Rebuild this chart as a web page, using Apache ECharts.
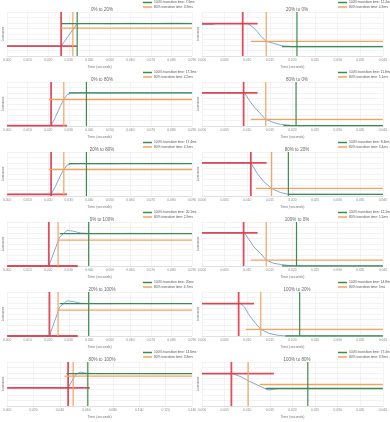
<!DOCTYPE html>
<html><head><meta charset="utf-8">
<script src="https://cdn.jsdelivr.net/npm/echarts@6/dist/echarts.min.js"></script>
<style>html,body{margin:0;padding:0;background:#fff}#c{width:390px;height:422px}</style>
</head><body><div id="c"></div>
<script>
const titles = ["0% to 20%","20% to 0%","0% to 80%","80% to 0%","20% to 80%","80% to 20%","0% to 100%","100% to 0%","20% to 100%","100% to 20%","80% to 100%","100% to 80%"];
const legend100 = ["7.6ms","12.4ms","17.3ms","11.8ms","17.4ms","8.4ms","20.1ms","12.1ms","20ms","14.8ms","14.6ms","17.4ms"];
const legend80 = ["3.9ms","4.3ms","4.2ms","5.1ms","4.1ms","4.4ms","2.9ms","5.1ms","4.7ms","5ms","3.8ms","3.9ms"];
const xMax = [0.09,0.04,0.09,0.04,0.09,0.04,0.09,0.04,0.09,0.04,0.14,0.04];
const xStep = [0.01,0.005,0.01,0.005,0.01,0.005,0.01,0.005,0.01,0.005,0.02,0.005];
const tStart = [0.0263,0.0090,0.0214,0.0092,0.0214,0.0108,0.0203,0.0092,0.0206,0.0081,0.0462,0.0065];
const t80 = [0.0320,0.0142,0.0276,0.0141,0.0276,0.0154,0.0248,0.0142,0.0248,0.0130,0.0500,0.0102];
const t100 = [0.0341,0.0210,0.0386,0.0208,0.0386,0.0191,0.0397,0.0209,0.0397,0.0216,0.0611,0.0234];
const levelStart = [0.226,0.737,0.008,0.752,0.038,0.752,0.0,0.752,0.0,0.737,0.414,0.737];
const level80 = [0.632,0.331,0.602,0.150,0.602,0.173,0.586,0.135,0.586,0.150,0.677,0.489];
const levelFinal = [0.737,0.211,0.752,0.008,0.737,0.038,0.737,0.0,0.737,0.0,0.737,0.398];
const redEnd = [0.034,0.0123,0.0292,0.0123,0.0292,0.0143,0.0344,0.0123,0.0344,0.0115,0.0626,0.0159];
const orangeFrom = [0.0263,0.0108,0.0203,0.0108,0.0203,0.0119,0.0248,0.0108,0.0248,0.0097,0.0434,0.0128];
const greenFrom = [0.0263,0.0177,0.0300,0.0180,0.0300,0.0191,0.0256,0.0177,0.0256,0.0184,0.0449,0.0141];
const curves = [
 [[0,0.226],[0.0263,0.226],[0.0341,0.737],[0.04,0.742],[0.05,0.735],[0.06,0.743],[0.07,0.737],[0.08,0.746],[0.09,0.741]],
 [[0,0.715],[0.0025,0.72],[0.003,0.737],[0.0101,0.737],[0.0112,0.66],[0.0123,0.55],[0.0130,0.45],[0.0142,0.331],[0.0159,0.286],[0.0177,0.23],[0.020,0.211],[0.04,0.211]],
 [[0,0.008],[0.0214,0.008],[0.0235,0.2],[0.0259,0.45],[0.0276,0.602],[0.0292,0.71],[0.031,0.745],[0.035,0.752],[0.05,0.748],[0.06,0.756],[0.07,0.75],[0.08,0.757],[0.09,0.753]],
 [[0,0.752],[0.0094,0.752],[0.0108,0.53],[0.0115,0.44],[0.0130,0.27],[0.0141,0.150],[0.0159,0.075],[0.0173,0.04],[0.0202,0.008],[0.04,0.008]],
 [[0,0.038],[0.0214,0.038],[0.0235,0.22],[0.0259,0.46],[0.0276,0.602],[0.0292,0.70],[0.031,0.732],[0.035,0.737],[0.05,0.733],[0.06,0.741],[0.07,0.736],[0.08,0.742],[0.09,0.738]],
 [[0,0.752],[0.0108,0.752],[0.0123,0.5],[0.0137,0.32],[0.0154,0.173],[0.0173,0.08],[0.0191,0.038],[0.04,0.038]],
 [[0,0],[0.0203,0],[0.0256,0.66],[0.0292,0.81],[0.0324,0.79],[0.0357,0.75],[0.04,0.74],[0.05,0.737],[0.06,0.742],[0.07,0.736],[0.08,0.741],[0.09,0.738]],
 [[0,0.752],[0.0094,0.752],[0.0115,0.43],[0.0130,0.28],[0.0142,0.135],[0.0159,0.06],[0.0177,0.03],[0.0202,0],[0.04,0]],
 [[0,0],[0.0206,0],[0.0256,0.66],[0.0292,0.80],[0.0324,0.78],[0.0357,0.745],[0.04,0.737],[0.05,0.735],[0.06,0.741],[0.07,0.736],[0.08,0.74],[0.09,0.737]],
 [[0,0.737],[0.0086,0.737],[0.0094,0.66],[0.0104,0.48],[0.0115,0.33],[0.0130,0.15],[0.0148,0.06],[0.0166,0.02],[0.0184,0],[0.04,0]],
 [[0,0.414],[0.0462,0.414],[0.0520,0.72],[0.0555,0.77],[0.0600,0.745],[0.07,0.737],[0.09,0.74],[0.11,0.736],[0.14,0.738]],
 [[0,0.737],[0.0068,0.737],[0.0087,0.66],[0.0101,0.58],[0.0130,0.44],[0.0148,0.36],[0.0159,0.385],[0.0173,0.398],[0.04,0.398]]
];

const RED = 'rgba(224,58,72,0.9)', GREEN = '#3d8b4f', ORANGE = '#f2a35e', BLUE = '#7fa8da';
const grids=[], xAxes=[], yAxes=[], series=[], title=[], legend=[];
for (let i=0;i<12;i++){
  const col=i%2, row=Math.floor(i/2);
  const ox=col*195, oy=row*70;
  grids.push({left:ox+7, top:oy+12, width:185, height:44});
  xAxes.push({gridIndex:i,type:'value',min:0,max:xMax[i],interval:xStep[i],
    name:'Time (seconds)',nameLocation:'middle',nameGap:9,nameTextStyle:{fontSize:3.5,color:'#777'},
    axisLine:{lineStyle:{color:'#ccc',width:0.5}},axisTick:{show:false},
    axisLabel:{fontSize:3.3,color:'#888',margin:3,formatter:v=>v.toFixed(3)},
    splitLine:{lineStyle:{color:'#e6e6e6',width:0.5}}});
  yAxes.push({gridIndex:i,type:'value',min:0,max:1,interval:0.125,
    name:'Luminance',nameLocation:'middle',nameGap:2,nameTextStyle:{fontSize:3,color:'#777'},
    axisLine:{show:false},axisTick:{show:false},axisLabel:{show:false},
    splitLine:{lineStyle:{color:'#e6e6e6',width:0.5}}});
  title.push({text:titles[i],left:ox+97,top:oy+2,textAlign:'center',textStyle:{fontSize:4.5,fontWeight:'normal',color:'#666'}});
  const n100='100% transition time: '+legend100[i], n80='80% transition time: '+legend80[i];
  legend.push({data:[n100,n80],orient:'vertical',left:ox+143,top:oy+1,itemGap:1.5,itemWidth:9,itemHeight:1.5,icon:'rect',
    textStyle:{fontSize:3.3,color:'#555',padding:[0,0,0,-3]},padding:0,selectedMode:false});
  const base={xAxisIndex:i,yAxisIndex:i,type:'line',symbol:'none',silent:true,animation:false};
  series.push(Object.assign({},base,{name:'h'+i,data:curves[i],lineStyle:{color:BLUE,width:1},z:2}));
  series.push(Object.assign({},base,{name:'rv'+i,data:[[tStart[i],0],[tStart[i],1]],lineStyle:{color:RED,width:1.8},z:3}));
  series.push(Object.assign({},base,{name:'rh'+i,data:[[0,levelStart[i]],[redEnd[i],levelStart[i]]],lineStyle:{color:RED,width:1.8},z:3}));
  series.push(Object.assign({},base,{name:n80,data:[[orangeFrom[i],level80[i]],[xMax[i],level80[i]]],itemStyle:{color:ORANGE},lineStyle:{color:ORANGE,width:1.3},z:3}));
  series.push(Object.assign({},base,{name:'ov'+i,data:[[t80[i],0],[t80[i],1]],lineStyle:{color:ORANGE,width:1.2},z:3}));
  series.push(Object.assign({},base,{name:n100,data:[[greenFrom[i],levelFinal[i]],[xMax[i],levelFinal[i]]],itemStyle:{color:GREEN},lineStyle:{color:GREEN,width:1.3},z:4}));
  series.push(Object.assign({},base,{name:'gv'+i,data:[[t100[i],0],[t100[i],1]],lineStyle:{color:GREEN,width:1.2},z:4}));
}
const chart=echarts.init(document.getElementById('c'),null,{renderer:'canvas'});
chart.setOption({animation:false,backgroundColor:'#fff',title,legend,grid:grids,xAxis:xAxes,yAxis:yAxes,series});
</script></body></html>
